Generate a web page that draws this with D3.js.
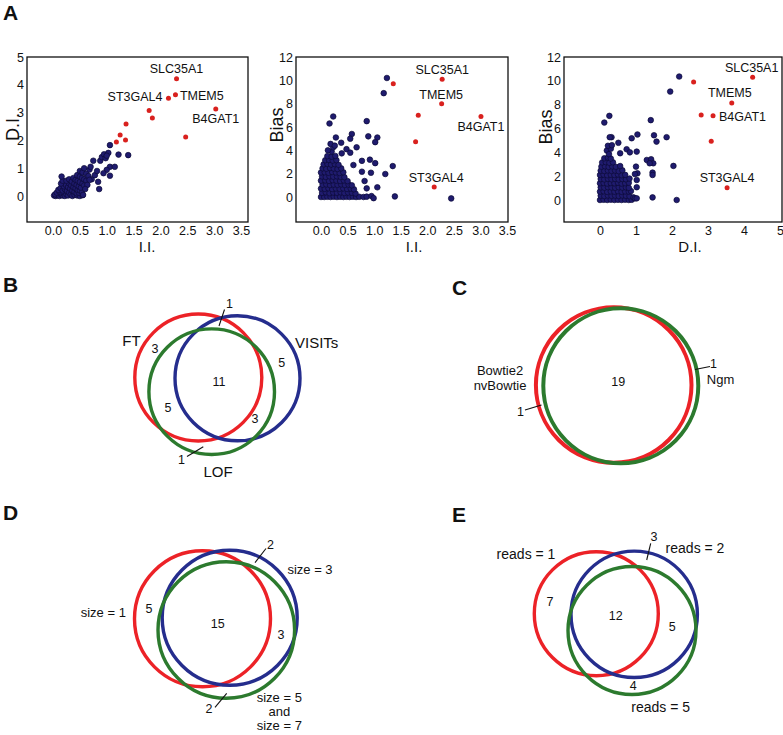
<!DOCTYPE html>
<html><head><meta charset="utf-8">
<script src="https://cdn.jsdelivr.net/npm/d3@7"></script>
<style>
body{margin:0;background:#fff}
svg{display:block}
text{font-family:"Liberation Sans",Arial,Helvetica,sans-serif;fill:#111}
</style>
</head><body>
<svg id="c" width="783" height="735"></svg>
<script>
// ---------------- DATA ----------------
const iiTicks = [0.0, 0.5, 1.0, 1.5, 2.0, 2.5, 3.0, 3.5];
const diTicks = [0, 1, 2, 3, 4, 5];
const biasTicks = [0, 2, 4, 6, 8, 10, 12];

// Panel A1: I.I. (x) vs D.I. (y)
const a1Blue = [
  [0.02,0.02],[0.05,0.0],[0.08,0.03],[0.1,0.08],[0.04,0.06],[0.12,0.0],[0.15,0.05],[0.18,0.02],
  [0.07,0.12],[0.12,0.15],[0.16,0.12],[0.2,0.1],[0.22,0.0],[0.25,0.06],[0.28,0.02],[0.1,0.22],
  [0.14,0.28],[0.18,0.2],[0.22,0.25],[0.26,0.18],[0.3,0.12],[0.33,0.05],[0.36,0.0],[0.4,0.04],
  [0.45,0.02],[0.5,0.0],[0.55,0.03],[0.2,0.35],[0.24,0.4],[0.28,0.32],[0.32,0.26],[0.36,0.2],
  [0.4,0.15],[0.44,0.1],[0.48,0.12],[0.3,0.45],[0.34,0.38],[0.38,0.32],[0.42,0.28],[0.46,0.22],
  [0.5,0.2],[0.54,0.15],[0.15,0.45],[0.18,0.55],[0.16,0.7],[0.25,0.55],[0.3,0.6],[0.35,0.52],
  [0.4,0.45],[0.44,0.4],[0.48,0.35],[0.52,0.3],[0.38,0.65],[0.42,0.58],[0.46,0.55],[0.5,0.5],
  [0.55,0.45],[0.58,0.38],[0.45,0.75],[0.5,0.7],[0.54,0.65],[0.58,0.6],[0.62,0.55],[0.5,0.9],
  [0.55,0.85],[0.58,1.0],[0.62,0.8],[0.66,0.72],[0.68,0.95],[0.7,1.05],[0.64,0.4],[0.6,0.25],
  [0.75,1.27],[0.88,1.27],[0.91,1.4],[0.95,1.5],[0.98,1.36],[1.03,1.55],[1.0,1.45],[1.06,1.83],
  [1.22,1.49],[1.40,1.47],[1.06,1.05],[1.0,0.94],[0.94,0.82],[0.84,0.51],[0.86,0.25],[0.72,0.6],
  [0.78,0.75],[0.82,0.9],[1.15,1.05],[1.06,0.73],[0.68,0.58],[0.56,0.04]
];
const a1Red = [
  [2.30,4.22,"SLC35A1"],[2.28,3.64,"TMEM5"],[2.15,3.52,"ST3GAL4"],[3.03,3.13,"B4GAT1"],
  [1.79,3.08,""],[1.85,2.81,""],[2.47,2.12,""],[1.36,2.59,""],[1.25,2.19,""],[1.18,1.94,""],[1.35,2.01,""]
];

// Panel A2: I.I. (x) vs Bias (y)
const a2Blue = [
  [0.0,0],[0.06,0],[0.12,0.02],[0.18,0],[0.24,0.03],[0.3,0],[0.36,0.02],[0.42,0],[0.48,0.02],[0.54,0],[0.6,0.03],[0.66,0],[0.72,0.02],
  [0.02,0.35],[0.09,0.4],[0.16,0.33],[0.23,0.38],[0.3,0.36],[0.37,0.4],[0.44,0.34],[0.51,0.38],[0.58,0.36],[0.65,0.3],
  [0.0,0.72],[0.07,0.7],[0.14,0.75],[0.21,0.68],[0.28,0.73],[0.35,0.7],[0.42,0.74],[0.49,0.69],[0.56,0.72],[0.62,0.66],
  [0.03,1.05],[0.1,1.08],[0.17,1.02],[0.24,1.06],[0.31,1.04],[0.38,1.08],[0.45,1.03],[0.52,1.06],[0.58,1.0],
  [0.0,1.4],[0.08,1.42],[0.15,1.38],[0.22,1.44],[0.29,1.4],[0.36,1.37],[0.43,1.42],[0.5,1.36],
  [0.02,1.76],[0.09,1.72],[0.16,1.78],[0.23,1.74],[0.3,1.77],[0.37,1.73],[0.44,1.7],
  [0.0,2.1],[0.07,2.12],[0.14,2.08],[0.21,2.14],[0.28,2.1],[0.35,2.06],[0.42,2.12],
  [0.03,2.46],[0.1,2.42],[0.17,2.48],[0.24,2.44],[0.31,2.4],[0.38,2.46],
  [0.05,2.8],[0.12,2.84],[0.19,2.78],[0.26,2.82],[0.33,2.76],
  [0.08,3.15],[0.15,3.18],[0.22,3.12],[0.29,3.16],
  [0.12,3.5],[0.2,3.46],[0.27,3.52],
  [0.2,3.9],[0.13,4.0],[0.23,4.26],[0.18,4.55],[0.26,4.4],
  [0.23,6.9],[0.16,6.3],[0.86,6.5],[0.58,5.4],[0.55,5.0],[0.28,5.1],[0.89,5.2],[1.06,5.1],[1.02,4.7],
  [0.38,4.65],[0.48,4.1],[0.67,4.26],[0.55,3.8],[0.39,3.74],[0.77,3.1],[0.92,3.2],[1.02,2.9],[0.61,2.74],
  [1.21,1.97],[1.35,2.65],[0.77,2.17],[0.94,2.08],[0.82,1.37],[1.06,0.83],[0.86,0.74],[0.8,0.0],
  [0.86,0.03],[0.95,0.08],[0.99,-0.1],[1.39,0.05],[1.24,10.2],[1.18,8.9],[2.45,-0.12]
];
const a2Red = [
  [2.28,10.1,"SLC35A1"],[2.27,8.0,"TMEM5"],[3.01,6.9,"B4GAT1"],[2.13,0.86,"ST3GAL4"],
  [1.36,9.7,""],[1.83,7.0,""],[1.78,4.74,""]
];

// Panel A3: D.I. (x) vs Bias (y)
const a3Blue = [
  [0,0],[0.1,0.02],[0.2,0],[0.3,0.03],[0.4,0],[0.5,0.02],[0.6,0],[0.7,0.03],[0.8,0],[0.88,0.02],
  [0.02,0.36],[0.12,0.33],[0.22,0.38],[0.32,0.35],[0.42,0.37],[0.52,0.34],[0.62,0.38],[0.72,0.35],[0.82,0.32],
  [0,0.7],[0.1,0.73],[0.2,0.68],[0.3,0.72],[0.4,0.7],[0.5,0.74],[0.6,0.69],[0.7,0.72],[0.8,0.7],[0.86,0.75],
  [0.02,1.06],[0.12,1.03],[0.22,1.08],[0.32,1.05],[0.42,1.02],[0.52,1.07],[0.62,1.04],[0.72,1.06],[0.8,1.02],
  [0,1.4],[0.1,1.43],[0.2,1.38],[0.3,1.42],[0.4,1.4],[0.5,1.44],[0.6,1.38],[0.7,1.41],[0.8,1.45],
  [0.02,1.76],[0.12,1.73],[0.22,1.78],[0.32,1.74],[0.42,1.77],[0.52,1.72],[0.62,1.76],[0.72,1.74],[0.82,1.8],
  [0,2.1],[0.1,2.13],[0.2,2.08],[0.3,2.12],[0.4,2.1],[0.5,2.14],[0.6,2.08],[0.7,2.11],
  [0.02,2.46],[0.12,2.43],[0.22,2.48],[0.32,2.44],[0.42,2.47],[0.52,2.42],[0.62,2.5],
  [0.04,2.8],[0.14,2.83],[0.24,2.78],[0.34,2.82],[0.44,2.79],[0.56,2.85],
  [0.06,3.15],[0.16,3.18],[0.26,3.12],[0.36,3.16],
  [0.12,3.5],[0.22,3.55],[0.3,3.48],
  [0.19,4.15],[0.25,3.85],[0.3,4.3],[0.22,4.55],[0.33,4.6],
  [0.26,7.06],[0.12,6.5],[1.41,6.7],[0.32,5.27],[0.27,5.27],[0.88,5.18],[1.04,5.5],[1.5,5.43],[1.57,4.9],
  [1.85,5.27],[0.51,4.8],[0.74,4.26],[0.83,4.0],[1.02,4.06],[0.56,3.92],[1.3,3.36],[1.42,3.42],[1.48,3.08],
  [1.38,3.08],[2.04,2.86],[1.0,2.8],[1.04,2.24],[0.97,2.18],[1.46,2.3],[1.46,2.1],[1.02,1.68],[1.02,1.07],
  [0.93,0.22],[0.97,0.14],[1.02,0.14],[1.46,0.22],[2.13,0.0],[2.2,10.36],[1.95,9.1]
];
const a3Red = [
  [4.24,10.3,"SLC35A1"],[3.66,8.15,"TMEM5"],[3.14,7.06,"B4GAT1"],[3.53,1.03,"ST3GAL4"],
  [2.60,9.9,""],[2.81,7.14,""],[3.09,4.93,""]
];

// Venn panels: region counts
const vennBSets = ["FT", "VISITs", "LOF"];
const vennBCounts = [3, 5, 11, 5, 3, 1, 1]; // FT only, VISITs only, all, FT&LOF, VISITs&LOF, FT&VISITs, LOF only
const vennCSets = ["Bowtie2\nnvBowtie", "Ngm"];
const vennCCounts = [1, 19, 1]; // Bowtie2/nvBowtie only, both, Ngm only
const vennDSets = ["size = 1", "size = 3", "size = 5\nand\nsize = 7"];
const vennDCounts = [5, 15, 3, 2, 2];
const vennESets = ["reads = 1", "reads = 2", "reads = 5"];
const vennECounts = [7, 12, 5, 4, 3];

// ---------------- DRAW ----------------
const svg = d3.select("#c");
const RED = "#d9211e", NAVY = "#1f1b6e", NAVY_S = "#0b0a36";
const VR = "#ec2227", VB = "#252d8d", VG = "#2c7a2e";

function panelLetter(t, x, y) {
  svg.append("text").attr("x", x).attr("y", y).text(t)
    .style("font-size", "21px").style("font-weight", "bold");
}

function scatter(cfg) {
  const g = svg.append("g");
  const x = d3.scaleLinear().domain(cfg.xd).range(cfg.xr);
  const y = d3.scaleLinear().domain(cfg.yd).range(cfg.yr);
  g.append("rect").attr("x", cfg.box[0]).attr("y", cfg.box[1])
    .attr("width", cfg.box[2] - cfg.box[0]).attr("height", cfg.box[3] - cfg.box[1])
    .attr("fill", "none").attr("stroke", "#111").attr("stroke-width", 1.3);
  const ax = g.append("g").attr("transform", `translate(0,${cfg.box[3]})`)
    .call(d3.axisBottom(x).tickValues(cfg.xt).tickSize(0).tickPadding(4).tickFormat(cfg.xf));
  const ay = g.append("g").attr("transform", `translate(${cfg.box[0]},0)`)
    .call(d3.axisLeft(y).tickValues(cfg.yt).tickSize(0).tickPadding(3).tickFormat(d3.format("d")));
  [ax, ay].forEach(a => {
    a.select(".domain").remove();
    a.selectAll("text").style("font-size", "12.5px").attr("fill", "#111")
      .style("font-family", "'Liberation Sans',Arial,sans-serif");
  });
  g.selectAll("circle.b").data(cfg.blue).join("circle")
    .attr("cx", d => x(d[0])).attr("cy", d => y(d[1])).attr("r", 2.8)
    .attr("fill", NAVY).attr("stroke", NAVY_S).attr("stroke-width", 0.7);
  g.selectAll("circle.r").data(cfg.red).join("circle")
    .attr("cx", d => x(d[0])).attr("cy", d => y(d[1])).attr("r", 2.5)
    .attr("fill", RED);
  g.selectAll("text.lab").data(cfg.red.filter(d => d[2])).join("text")
    .attr("x", d => x(d[0]) + cfg.lab[d[2]][0])
    .attr("y", d => y(d[1]) + cfg.lab[d[2]][1])
    .attr("text-anchor", d => cfg.lab[d[2]][2])
    .style("font-size", "12.5px").text(d => d[2]);
  g.append("text").attr("x", cfg.xtitle[0]).attr("y", cfg.xtitle[1])
    .attr("text-anchor", "middle").style("font-size", "15px").text(cfg.xlabel);
  g.append("text").attr("transform", `translate(${cfg.ytitle[0]},${cfg.ytitle[1]}) rotate(-90)`)
    .attr("text-anchor", "middle").style("font-size", "18px").text(cfg.ylabel);
}

const f1 = d3.format(".1f"), fd = d3.format("d");
scatter({
  xd: [0, 3.5], xr: [53, 241], yd: [0, 5], yr: [196, 57], box: [27, 57, 248, 222],
  xt: iiTicks, yt: diTicks, xf: f1, blue: a1Blue, red: a1Red,
  lab: {SLC35A1: [0, -5.5, "middle"], TMEM5: [4.5, 5.6, "start"], ST3GAL4: [-6, 2.5, "end"], B4GAT1: [0, 14.5, "middle"]},
  xlabel: "I.I.", ylabel: "D.I.", xtitle: [147, 252], ytitle: [19, 127]
});
scatter({
  xd: [0, 3.5], xr: [321, 507], yd: [0, 12], yr: [197, 57], box: [296, 57, 508, 222],
  xt: iiTicks, yt: biasTicks, xf: f1, blue: a2Blue, red: a2Red,
  lab: {SLC35A1: [0, -4.7, "middle"], TMEM5: [-0.5, -5, "middle"], B4GAT1: [0, 14.5, "middle"], ST3GAL4: [2, -4.5, "middle"]},
  xlabel: "I.I.", ylabel: "Bias", xtitle: [414, 252], ytitle: [283, 125]
});
scatter({
  xd: [0, 5], xr: [600, 780], yd: [0, 12], yr: [200, 57], box: [564, 57, 782, 222],
  xt: diTicks, yt: biasTicks, xf: fd, blue: a3Blue, red: a3Red,
  lab: {SLC35A1: [-1, -5, "middle"], TMEM5: [-2, -6, "middle"], B4GAT1: [6, 5, "start"], ST3GAL4: [0, -5.7, "middle"]},
  xlabel: "D.I.", ylabel: "Bias", xtitle: [690, 252], ytitle: [552, 127]
});

panelLetter("A", 3, 20);
panelLetter("B", 3, 292);
panelLetter("C", 452, 295);
panelLetter("D", 3, 520);
panelLetter("E", 452, 522);

// Venn drawing helper (layout only; counts/labels from data arrays)
function venn(circles, colors, sw, counts, countPos, sets, setPos, setSize, leaders, lineGap) {
  const g = svg.append("g");
  g.selectAll("circle").data(circles).join("circle")
    .attr("cx", d => d[0]).attr("cy", d => d[1]).attr("r", d => d[2])
    .attr("fill", "none").attr("stroke", (d, i) => colors[i]).attr("stroke-width", sw);
  g.selectAll("line").data(leaders).join("line")
    .attr("x1", d => d[0]).attr("y1", d => d[1]).attr("x2", d => d[2]).attr("y2", d => d[3])
    .attr("stroke", "#111").attr("stroke-width", 1.1);
  g.selectAll("text.cnt").data(counts).join("text")
    .attr("x", (d, i) => countPos[i][0]).attr("y", (d, i) => countPos[i][1])
    .attr("dy", "0.35em").attr("text-anchor", "middle").style("font-size", "12.5px").text(d => d);
  sets.forEach((s, i) => {
    const lines = s.split("\n");
    const t = g.append("text").attr("x", setPos[i][0]).attr("y", setPos[i][1])
      .attr("text-anchor", "middle").style("font-size", setSize);
    lines.forEach((l, k) => t.append("tspan").attr("x", setPos[i][0]).attr("dy", k === 0 ? "0.35em" : (lineGap || "1.18em")).text(l));
  });
}

// B
venn([[198.3, 377.5, 63.5], [237.5, 378.3, 62.5], [211.7, 391.7, 62.8]], [VR, VB, VG], 3.4,
  vennBCounts,
  [[155, 349], [281.7, 362.7], [219, 382], [168, 408], [255, 419], [229.5, 304], [181.5, 459.5]],
  vennBSets, [[131.5, 341], [316.7, 343], [218, 472]], "15px",
  [[224.5, 309.5, 219, 326], [187, 456.5, 203.3, 446.7]]);

// C
venn([[613.7, 385, 77.8], [620.8, 385.8, 77.5]], [VR, VG], 4,
  vennCCounts,
  [[520.5, 411.5], [618.3, 381.7], [713.5, 363.5]],
  vennCSets, [[500, 370], [720.5, 379]], "13px",
  [[525, 410, 541.5, 405], [695, 369.5, 710, 366.5]]);

// D
venn([[202.5, 618.8, 68], [229.7, 617.7, 67.5], [226.3, 630, 68.3]], [VR, VB, VG], 3.4,
  vennDCounts,
  [[149, 608.3], [217.7, 623.3], [281, 634.3], [270.5, 545], [209, 709]],
  vennDSets, [[103.3, 612.7], [310, 569], [279.3, 697]], "13px",
  [[266, 548.5, 255, 562.7], [215, 707.3, 226.7, 693.3]], "1.1em");

// E
venn([[596.3, 613.7, 62], [634.2, 614.3, 63.2], [632, 630.5, 64]], [VR, VB, VG], 3.4,
  vennECounts,
  [[550, 601.7], [615.7, 616], [672.3, 626.7], [633.3, 685.7], [654, 536.7]],
  vennESets, [[526, 554.3], [695, 548.3], [660.7, 706.7]], "14px",
  [[650.7, 543.3, 646.7, 560]]);
</script>
</body></html>
